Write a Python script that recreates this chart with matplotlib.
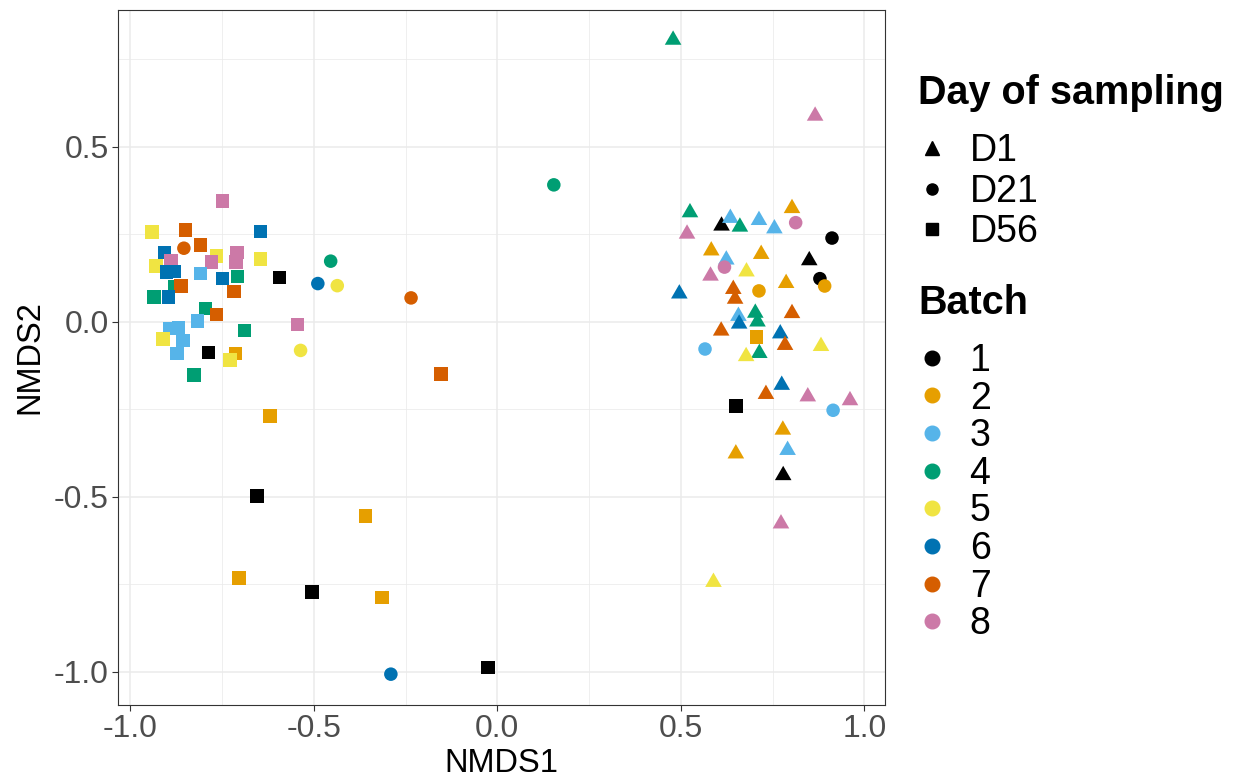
import numpy as np
import matplotlib.pyplot as plt
from matplotlib.lines import Line2D

plt.rcParams['font.family'] = ['Liberation Sans', 'DejaVu Sans']

# NMDS scores
nmds1 = [
    # D56 (squares)
    -0.748, -0.849, -0.941, -0.646, -0.809, -0.907, -0.766, -0.709, -0.712, -0.778,
    -0.889, -0.930, -0.646, -0.901, -0.880, -0.809, -0.748, -0.707, -0.593, -0.878,
    -0.862, -0.935, -0.895, -0.717, -0.796, -0.766, -0.816, -0.545, -0.892, -0.869,
    -0.856, -0.911, -0.873, -0.689, -0.786, -0.713, -0.728, -0.826, -0.619, -0.655,
    -0.360, -0.704, -0.505, -0.314, -0.025, -0.153, 0.650, 0.707,
    # D21 (circles)
    -0.854, -0.454, -0.489, -0.436, -0.536, -0.235, 0.154, -0.290, 0.619, 0.566,
    0.713, 0.813, 0.912, 0.879, 0.892, 0.915,
    # D1 (triangles)
    0.479, 0.866, 0.525, 0.517, 0.611, 0.635, 0.661, 0.713, 0.755, 0.803,
    0.583, 0.624, 0.581, 0.719, 0.679, 0.850, 0.496, 0.643, 0.648, 0.787,
    0.703, 0.709, 0.657, 0.659, 0.610, 0.803, 0.771, 0.784, 0.714, 0.678,
    0.882, 0.775, 0.732, 0.846, 0.961, 0.778, 0.791, 0.650, 0.779, 0.773,
    0.589,
]
nmds2 = [
    0.345, 0.262, 0.256, 0.257, 0.219, 0.198, 0.188, 0.197, 0.171, 0.171,
    0.174, 0.159, 0.179, 0.142, 0.143, 0.138, 0.123, 0.129, 0.127, 0.100,
    0.102, 0.071, 0.071, 0.086, 0.037, 0.020, 0.002, -0.007, -0.019, -0.017,
    -0.054, -0.049, -0.091, -0.026, -0.087, -0.090, -0.109, -0.152, -0.269, -0.498,
    -0.555, -0.732, -0.772, -0.787, -0.987, -0.149, -0.241, -0.044,
    0.210, 0.173, 0.109, 0.103, -0.082, 0.068, 0.391, -1.007, 0.156, -0.078,
    0.088, 0.283, 0.239, 0.123, 0.102, -0.253,
    0.805, 0.588, 0.312, 0.251, 0.274, 0.296, 0.271, 0.290, 0.266, 0.324,
    0.203, 0.177, 0.131, 0.193, 0.143, 0.175, 0.080, 0.093, 0.065, 0.110,
    0.025, 0.000, 0.016, -0.006, -0.026, 0.024, -0.034, -0.067, -0.090, -0.099,
    -0.070, -0.181, -0.207, -0.214, -0.225, -0.309, -0.367, -0.377, -0.439, -0.577,
    -0.744,
]
day = ['D56'] * 48 + ['D21'] * 16 + ['D1'] * 41
batch = [
    8, 7, 5, 6, 7, 6, 5, 8, 8, 8,
    8, 5, 5, 6, 6, 3, 6, 4, 1, 4,
    7, 4, 6, 7, 4, 7, 3, 8, 3, 3,
    3, 5, 3, 4, 1, 2, 5, 4, 2, 1,
    2, 2, 1, 2, 1, 7, 1, 2,
    7, 4, 6, 5, 5, 7, 4, 6, 8, 3,
    2, 8, 1, 1, 2, 3,
    4, 8, 4, 8, 1, 3, 4, 3, 3, 2,
    2, 3, 8, 2, 5, 1, 6, 7, 7, 2,
    4, 4, 3, 6, 7, 7, 6, 7, 4, 5,
    5, 6, 7, 8, 8, 2, 3, 2, 1, 8,
    5,
]

days = ['D1', 'D21', 'D56']
batches = [1, 2, 3, 4, 5, 6, 7, 8]
batch_colors = ['#000000', '#E69F00', '#56B4E9', '#009E73',
                '#F0E442', '#0072B2', '#D55E00', '#CC79A7']

# ggplot-like equilateral triangle centred on its centroid
tri = [(0, 0.577), (-0.5, -0.289), (0.5, -0.289), (0, 0.577)]
day_markers = {'D1': tri, 'D21': 'o', 'D56': 's'}
day_sizes = {'D1': 190, 'D21': 95, 'D56': 92}

x = np.array(nmds1)
y = np.array(nmds2)
d = np.array(day)
b = np.array(batch)

fig = plt.figure(figsize=(12.53, 7.8), dpi=100)
ax = fig.add_axes([118 / 1253, 1 - 705 / 780, 767 / 1253, 695 / 780])

for dd in days:
    m = d == dd
    cols = [batch_colors[k - 1] for k in b[m]]
    ax.scatter(x[m], y[m], marker=day_markers[dd], s=day_sizes[dd],
               c=cols, linewidths=0, zorder=3)

ax.set_xlim(-1.0335, 1.0564)
ax.set_ylim(-1.0951, 0.8906)
ax.set_xticks([-1.0, -0.5, 0.0, 0.5, 1.0])
ax.set_yticks([-1.0, -0.5, 0.0, 0.5])
ax.set_xticks(np.arange(-1.0, 1.01, 0.25), minor=True)
ax.set_yticks(np.arange(-1.0, 0.9, 0.25), minor=True)
ax.xaxis.set_major_formatter(plt.FormatStrFormatter('%.1f'))
ax.yaxis.set_major_formatter(plt.FormatStrFormatter('%.1f'))
ax.grid(True, which='major', color='#EBEBEB', linewidth=1.1, zorder=0)
ax.grid(True, which='minor', color='#EBEBEB', linewidth=0.55, zorder=0)
ax.set_axisbelow(True)
ax.tick_params(which='major', length=4.5, width=0.8, color='#333333',
               labelsize=23, labelcolor='#4D4D4D', pad=2)
ax.tick_params(which='minor', length=0)
for sp in ax.spines.values():
    sp.set_color('#333333')
    sp.set_linewidth(0.8)

ax.set_xlabel('NMDS1', fontsize=23.5, labelpad=3)
ax.set_ylabel('NMDS2', fontsize=23.5, labelpad=6)

# legends
fig.text(918 / 1253, 1 - 93 / 780, 'Day of sampling', fontsize=28.5,
         fontweight='bold', va='center', ha='left')
day_handles = [
    Line2D([], [], linestyle='none', marker='^', markersize=10, color='black'),
    Line2D([], [], linestyle='none', marker='o', markersize=8, color='black'),
    Line2D([], [], linestyle='none', marker='s', markersize=8, color='black'),
]
fig.legend(day_handles, days, loc='upper left',
           bbox_to_anchor=(913 / 1253, 1 - 133 / 780), frameon=False,
           fontsize=27, handlelength=1.0, handletextpad=0.51,
           labelspacing=0.125, borderpad=0, borderaxespad=0)

fig.text(918 / 1253, 1 - 303 / 780, 'Batch', fontsize=28.5,
         fontweight='bold', va='center', ha='left')
batch_handles = [Line2D([], [], linestyle='none', marker='o', markersize=10.5,
                        color=c) for c in batch_colors]
fig.legend(batch_handles, [str(k) for k in batches], loc='upper left',
           bbox_to_anchor=(913 / 1253, 1 - 343 / 780), frameon=False,
           fontsize=27, handlelength=1.0, handletextpad=0.51,
           labelspacing=0.043, borderpad=0, borderaxespad=0)

fig.savefig('out.png', dpi=100)
